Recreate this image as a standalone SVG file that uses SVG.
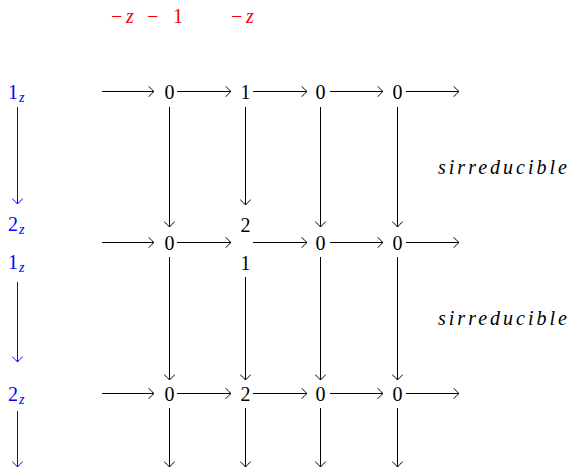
<svg xmlns="http://www.w3.org/2000/svg" width="569" height="471" viewBox="0 0 569 471" font-family="Liberation Serif" font-size="20">
  <defs>
    <style>
      text { font-family: 'Liberation Serif', serif !important; font-size: 20px !important; }
      tspan.sub { font-size: 14px !important; font-style: italic; }
    </style>
    <marker id="tip" markerUnits="userSpaceOnUse" markerWidth="12" markerHeight="14" viewBox="-7 -7 8 14" refX="0" refY="0" orient="auto">
      <path d="M -5 -5 Q -1.5 -1 0 0 Q -1.5 1 -5 5" stroke="#000" stroke-width="1" fill="none" stroke-linecap="round"/>
    </marker>
    <marker id="btip" markerUnits="userSpaceOnUse" markerWidth="12" markerHeight="14" viewBox="-7 -7 8 14" refX="0" refY="0" orient="auto">
      <path d="M -5 -5 Q -1.5 -1 0 0 Q -1.5 1 -5 5" stroke="#0000ff" stroke-width="1" fill="none" stroke-linecap="round"/>
    </marker>
  </defs>

  <!-- weight labels above the grid -->
  <g id="weights" fill="#ff0000">
    <text style="font-family:'Liberation Serif',serif !important;font-size:20px !important" y="23"><tspan x="111">−</tspan><tspan font-style="italic" x="126">z</tspan><tspan x="147">−</tspan><tspan x="173">1</tspan></text>
    <text style="font-family:'Liberation Serif',serif !important;font-size:20px !important" y="23"><tspan x="231">−</tspan><tspan font-style="italic" x="246">z</tspan></text>
  </g>

  <!-- left-hand column of generators -->
  <g id="gen-1" fill="#0000ff">
    <text style="font-family:'Liberation Serif',serif !important;font-size:20px !important" x="8" y="99">1<tspan class="sub" style="font-size:14px !important" dx="1" dy="3">z</tspan></text>
  </g>
  <g id="gen-2" fill="#0000ff">
    <text style="font-family:'Liberation Serif',serif !important;font-size:20px !important" x="8" y="231">2<tspan class="sub" style="font-size:14px !important" dx="1" dy="3">z</tspan></text>
    <text style="font-family:'Liberation Serif',serif !important;font-size:20px !important" x="8" y="269">1<tspan class="sub" style="font-size:14px !important" dx="1" dy="3">z</tspan></text>
  </g>
  <g id="gen-3" fill="#0000ff">
    <text style="font-family:'Liberation Serif',serif !important;font-size:20px !important" x="8" y="401">2<tspan class="sub" style="font-size:14px !important" dx="1" dy="3">z</tspan></text>
  </g>

  <!-- grid of entries -->
  <g text-anchor="middle" fill="#000">
    <!-- row 1 -->
    <g id="n11"><text style="font-family:'Liberation Serif',serif !important;font-size:20px !important" x="169.5" y="99">0</text></g>
    <g id="n12"><text style="font-family:'Liberation Serif',serif !important;font-size:20px !important" x="245.5" y="99">1</text></g>
    <g id="n13"><text style="font-family:'Liberation Serif',serif !important;font-size:20px !important" x="320.5" y="99">0</text></g>
    <g id="n14"><text style="font-family:'Liberation Serif',serif !important;font-size:20px !important" x="397.5" y="99">0</text></g>

    <!-- row 2 -->
    <g id="n21"><text style="font-family:'Liberation Serif',serif !important;font-size:20px !important" x="169.5" y="250">0</text></g>
    <g id="n22">
      <text style="font-family:'Liberation Serif',serif !important;font-size:20px !important" x="245.5" y="232">2</text>
      <text style="font-family:'Liberation Serif',serif !important;font-size:20px !important" x="245.5" y="270">1</text>
    </g>
    <g id="n23"><text style="font-family:'Liberation Serif',serif !important;font-size:20px !important" x="320.5" y="250">0</text></g>
    <g id="n24"><text style="font-family:'Liberation Serif',serif !important;font-size:20px !important" x="397.5" y="250">0</text></g>

    <!-- row 3 -->
    <g id="n31"><text style="font-family:'Liberation Serif',serif !important;font-size:20px !important" x="169.5" y="401">0</text></g>
    <g id="n32"><text style="font-family:'Liberation Serif',serif !important;font-size:20px !important" x="245.5" y="401">2</text></g>
    <g id="n33"><text style="font-family:'Liberation Serif',serif !important;font-size:20px !important" x="320.5" y="401">0</text></g>
    <g id="n34"><text style="font-family:'Liberation Serif',serif !important;font-size:20px !important" x="397.5" y="401">0</text></g>
  </g>

  <!-- side annotations -->
  <g id="note-1"><text style="font-family:'Liberation Serif',serif !important;font-size:20px !important" font-style="italic" x="438" y="174" textLength="129">sirreducible</text></g>
  <g id="note-2"><text style="font-family:'Liberation Serif',serif !important;font-size:20px !important" font-style="italic" x="438" y="325" textLength="129">sirreducible</text></g>

  <g id="connectors" fill="none" stroke-width="1">
    <!-- generator arrows -->
    <g stroke="#0000ff" marker-end="url(#btip)">
      <line x1="17.5" y1="107" x2="17.5" y2="204"/>
      <line x1="17.5" y1="282" x2="17.5" y2="362"/>
      <line x1="17.5" y1="411" x2="17.5" y2="467"/>
    </g>

    <g stroke="#000" marker-end="url(#tip)">
      <!-- horizontal arrows, row 1 -->
      <line x1="102" y1="91.5" x2="154" y2="91.5"/>
      <line x1="177" y1="91.5" x2="231" y2="91.5"/>
      <line x1="253" y1="91.5" x2="307" y2="91.5"/>
      <line x1="330" y1="91.5" x2="383" y2="91.5"/>
      <line x1="406" y1="91.5" x2="459" y2="91.5"/>

      <!-- horizontal arrows, row 2 -->
      <line x1="102" y1="242.5" x2="154" y2="242.5"/>
      <line x1="177" y1="242.5" x2="231" y2="242.5"/>
      <line x1="253" y1="242.5" x2="307" y2="242.5"/>
      <line x1="330" y1="242.5" x2="383" y2="242.5"/>
      <line x1="406" y1="242.5" x2="459" y2="242.5"/>

      <!-- horizontal arrows, row 3 -->
      <line x1="102" y1="393.5" x2="154" y2="393.5"/>
      <line x1="177" y1="393.5" x2="231" y2="393.5"/>
      <line x1="253" y1="393.5" x2="307" y2="393.5"/>
      <line x1="330" y1="393.5" x2="383" y2="393.5"/>
      <line x1="406" y1="393.5" x2="459" y2="393.5"/>

      <!-- vertical arrows, column 1 -->
      <line x1="169.5" y1="107" x2="169.5" y2="227"/>
      <line x1="169.5" y1="257" x2="169.5" y2="380"/>
      <line x1="169.5" y1="408" x2="169.5" y2="467"/>

      <!-- vertical arrows, column 2 -->
      <line x1="245.5" y1="107" x2="245.5" y2="205"/>
      <line x1="245.5" y1="277" x2="245.5" y2="380"/>
      <line x1="245.5" y1="408" x2="245.5" y2="467"/>

      <!-- vertical arrows, column 3 -->
      <line x1="320.5" y1="107" x2="320.5" y2="227"/>
      <line x1="320.5" y1="257" x2="320.5" y2="380"/>
      <line x1="320.5" y1="408" x2="320.5" y2="467"/>

      <!-- vertical arrows, column 4 -->
      <line x1="397.5" y1="107" x2="397.5" y2="227"/>
      <line x1="397.5" y1="257" x2="397.5" y2="380"/>
      <line x1="397.5" y1="408" x2="397.5" y2="467"/>
    </g>
  </g>
</svg>
